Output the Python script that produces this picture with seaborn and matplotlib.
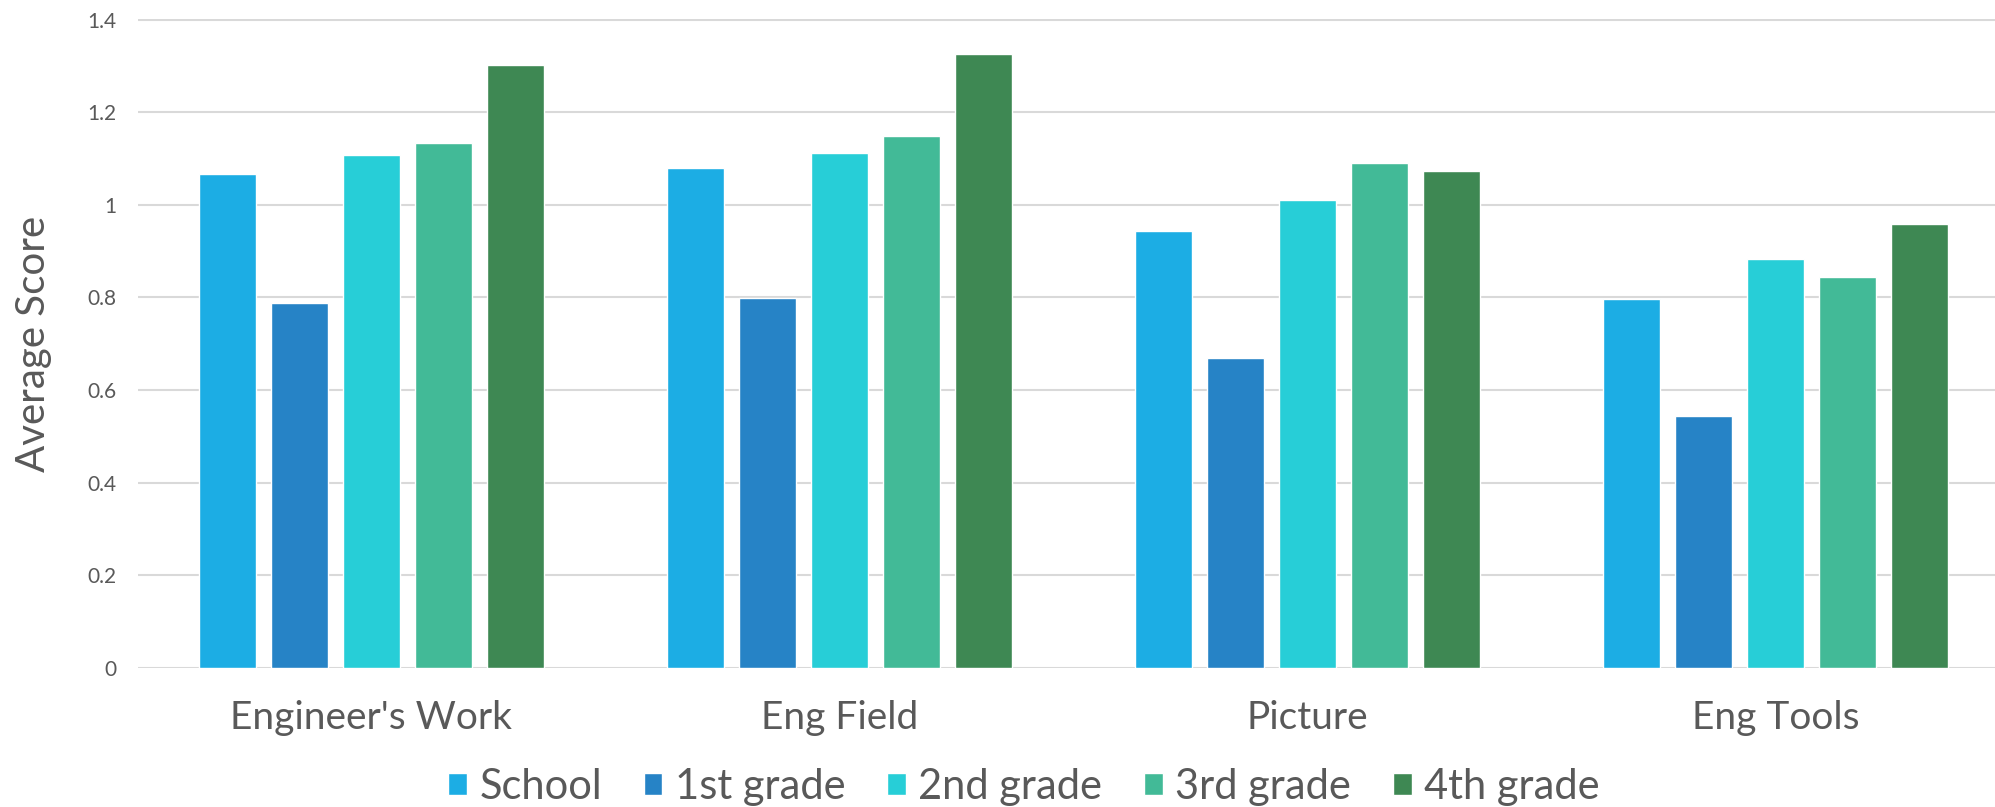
import matplotlib
matplotlib.use("Agg")
import matplotlib.pyplot as plt
import seaborn as sns
import pandas as pd

# Average scores per question category and group
categories = ["Engineer's Work", "Eng Field", "Picture", "Eng Tools"]
groups = ["School", "1st grade", "2nd grade", "3rd grade", "4th grade"]
school = [1.066, 1.079, 0.943, 0.797]
grade1 = [0.789, 0.799, 0.669, 0.545]
grade2 = [1.107, 1.111, 1.010, 0.884]
grade3 = [1.133, 1.148, 1.090, 0.845]
grade4 = [1.301, 1.326, 1.072, 0.958]
colors = ["#1CADE4", "#2683C6", "#27CED7", "#42BA97", "#3E8853"]
y_ticks = [0, 0.2, 0.4, 0.6, 0.8, 1.0, 1.2, 1.4]
y_tick_labels = ["0", "0.2", "0.4", "0.6", "0.8", "1", "1.2", "1.4"]

series = [school, grade1, grade2, grade3, grade4]
rows = []
for g, vals in zip(groups, series):
    for c, v in zip(categories, vals):
        rows.append({"Category": c, "Group": g, "Score": v})
df = pd.DataFrame(rows)

sns.set_theme(style="white")
plt.rcParams["font.family"] = ["Lato", "DejaVu Sans"]
text_color = "#595959"
grid_color = "#D9D9D9"

fig = plt.figure(figsize=(19.95, 8.07), dpi=100)
ax = fig.add_axes([137.5 / 1995, 139 / 807, 1872 / 1995, 648.5 / 807])

sns.barplot(data=df, x="Category", y="Score", hue="Group", order=categories,
            hue_order=groups, palette=colors, width=0.768, gap=0.2,
            saturation=1, ax=ax, legend=True)

ax.set_ylim(0, 1.4)
ax.set_xlim(-0.5, len(categories) - 0.5)
ax.set_yticks(y_ticks)
ax.set_yticklabels(y_tick_labels)
ax.yaxis.grid(True, color=grid_color, linewidth=1.5)
ax.set_axisbelow(True)
for s in ax.spines.values():
    s.set_visible(False)
ax.tick_params(axis="y", length=0, pad=15, labelsize=15, labelcolor=text_color)
ax.tick_params(axis="x", length=0, pad=23, labelsize=28, labelcolor=text_color)
ax.set_xlabel("")
ax.set_ylabel("")

fig.text(34 / 1995, 1 - 344 / 807, "Average Score", rotation=90,
         ha="center", va="center", fontsize=29, color=text_color)

handles, labels = ax.get_legend_handles_labels()
ax.legend_.remove()
fig.legend(handles, labels, loc="center", bbox_to_anchor=(1024 / 1995, 20 / 807),
           ncol=5, frameon=False, fontsize=30, labelcolor=text_color,
           handlelength=0.45, handleheight=0.45, handletextpad=0.3,
           columnspacing=1.0, borderpad=0, borderaxespad=0)

fig.savefig("out.png", dpi=100, facecolor="white")
